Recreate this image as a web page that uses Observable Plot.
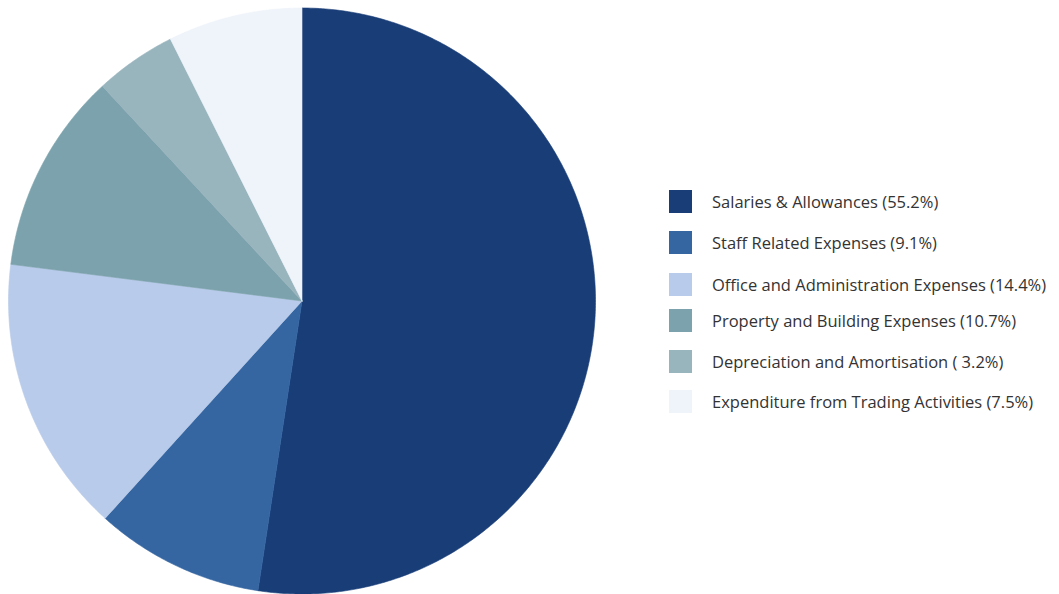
<!DOCTYPE html>
<html>
<head>
<meta charset="utf-8">
<script src="https://cdn.jsdelivr.net/npm/d3@7"></script>
<script src="https://cdn.jsdelivr.net/npm/@observablehq/plot@0.6"></script>
<style>
  html, body { margin: 0; padding: 0; background: #fff; }
  #wrap { position: relative; width: 1059px; height: 594px; overflow: hidden; }
  #legend { position: absolute; left: 669px; top: 0; font-family: "Open Sans", "Noto Sans", sans-serif; font-size: 16.5px; color: #333; }
  .item { position: absolute; left: 0; display: flex; align-items: center; white-space: nowrap; height: 23px; }
  .sw { width: 23px; height: 23px; margin-right: 20px; flex: none; }
</style>
</head>
<body>
<div id="wrap"></div>
<script>
// Categories (drawn order, clockwise from 12 o'clock)
const categories = [
  "Salaries & Allowances",
  "Staff Related Expenses",
  "Office and Administration Expenses",
  "Property and Building Expenses",
  "Depreciation and Amortisation",
  "Expenditure from Trading Activities"
];
const sliceValues = [52.4, 9.3, 15.3, 11.1, 4.5, 7.4];
// Legend labels as printed
const legendLabels = [
  "Salaries & Allowances (55.2%)",
  "Staff Related Expenses (9.1%)",
  "Office and Administration Expenses (14.4%)",
  "Property and Building Expenses (10.7%)",
  "Depreciation and Amortisation ( 3.2%)",
  "Expenditure from Trading Activities (7.5%)"
];
const colors = ["#183d77", "#3566a2", "#b8cbea", "#7ca2ad", "#98b4bd", "#eff3fa"];

const pie = d3.pie().sort(null).value(d => d.value)(
  categories.map((name, i) => ({name, value: sliceValues[i]}))
);
const pts = [];
for (const s of pie) {
  const name = s.data.name;
  pts.push({name, x: 0, y: 0});
  const n = Math.max(2, Math.ceil((s.endAngle - s.startAngle) / 0.01));
  for (let k = 0; k <= n; k++) {
    const a = s.startAngle + (s.endAngle - s.startAngle) * k / n;
    pts.push({name, x: Math.sin(a), y: Math.cos(a)});
  }
  pts.push({name, x: 0, y: 0});
}

const chart = Plot.plot({
  width: 1059,
  height: 594,
  margin: 0,
  x: {domain: [-1, 1], range: [8, 595], axis: null},
  y: {domain: [-1, 1], range: [593.5, 7.5], axis: null},
  color: {domain: categories, range: colors},
  marks: [
    Plot.line(pts, {x: "x", y: "y", z: "name", fill: "name", stroke: "name", strokeWidth: 0.6, curve: "linear"})
  ]
});
const wrap = document.getElementById("wrap");
wrap.appendChild(chart);

const legend = document.createElement("div");
legend.id = "legend";
const centers = [201.5, 242, 284, 320, 361, 401];
legendLabels.forEach((lab, i) => {
  const it = document.createElement("div");
  it.className = "item";
  it.style.top = (centers[i] - 11.5) + "px";
  const sw = document.createElement("div");
  sw.className = "sw";
  sw.style.background = colors[i];
  const t = document.createElement("span");
  t.textContent = lab;
  it.appendChild(sw); it.appendChild(t);
  legend.appendChild(it);
});
wrap.appendChild(legend);
</script>
</body>
</html>
